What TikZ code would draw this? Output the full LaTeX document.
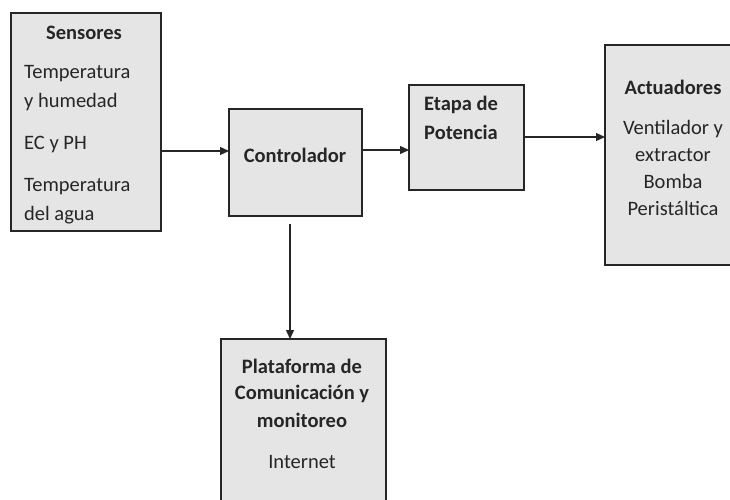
\documentclass[tikz,border=0pt]{standalone}
\usepackage{fontspec}
\setmainfont{Carlito}
\usetikzlibrary{arrows.meta}
\begin{document}
\begin{tikzpicture}[x=1pt,y=-1pt,
  block/.style={draw=black!85,line width=1.6pt,fill=black!10,inner sep=0pt},
  txt/.style={inner sep=0pt,text=black!85,font=\fontsize{20.5}{24}\selectfont},
  head/.style={txt,font=\fontsize{20.5}{24}\selectfont\bfseries},
  link/.style={draw=black!85,line width=1.3pt,-{Triangle[length=9pt,width=8pt]}}]
\clip (0,0) rectangle (730,499);
\fill[white] (0,0) rectangle (730,499);
% boxes
\path[block] (11,13) rectangle (161,231) node[midway] (sens) {};
\path[block] (229,109) rectangle (362,216) node[midway] (ctrl) {};
\path[block] (409,85) rectangle (524,190) node[midway] (pot) {};
\path[block] (605,45) rectangle (760,265) node[midway] (act) {};
\path[block] (221,339) rectangle (386,540) node[midway] (plat) {};
% named anchors on box edges
\coordinate (sensE) at (161,151);
\coordinate (ctrlW) at (229,151);
\coordinate (ctrlE) at (362,150);
\coordinate (potW) at (409,150);
\coordinate (potE) at (524,137);
\coordinate (actW) at (605,137);
\coordinate (ctrlS) at (290,224);
\coordinate (platN) at (290,339);
% texts
\node[head] (t1) at (84,33) {Sensores};
\node[txt,anchor=west] (t2) at (24,74) {Temperatura};
\node[txt,anchor=west] (t3) at (24,102) {y humedad};
\node[txt,anchor=west] (t4) at (24,144) {EC y PH};
\node[txt,anchor=west] (t5) at (24,187) {Temperatura};
\node[txt,anchor=west] (t6) at (24,215) {del agua};
\node[head] (t7) at (295,155) {Controlador};
\node[head,anchor=west] (t8) at (424,105) {Etapa de};
\node[head,anchor=west] (t9) at (424,132) {Potencia};
\node[head] (t10) at (673,87) {Actuadores};
\node[txt] (t11) at (673,129) {Ventilador y};
\node[txt] (t12) at (673,155) {extractor};
\node[txt] (t13) at (673,181) {Bomba};
\node[txt] (t14) at (673,208) {Peristáltica};
\node[head] (t15) at (302,366) {Plataforma de};
\node[head] (t16) at (302,394) {Comunicación y};
\node[head] (t17) at (302,420) {monitoreo};
\node[txt] (t18) at (302,462) {Internet};
% connectors
\draw[link] (sensE) -- (ctrlW);
\draw[link] (ctrlE) -- (potW);
\draw[link] (potE) -- (actW);
\draw[link] (ctrlS) -- (platN);
\end{tikzpicture}
\end{document}
